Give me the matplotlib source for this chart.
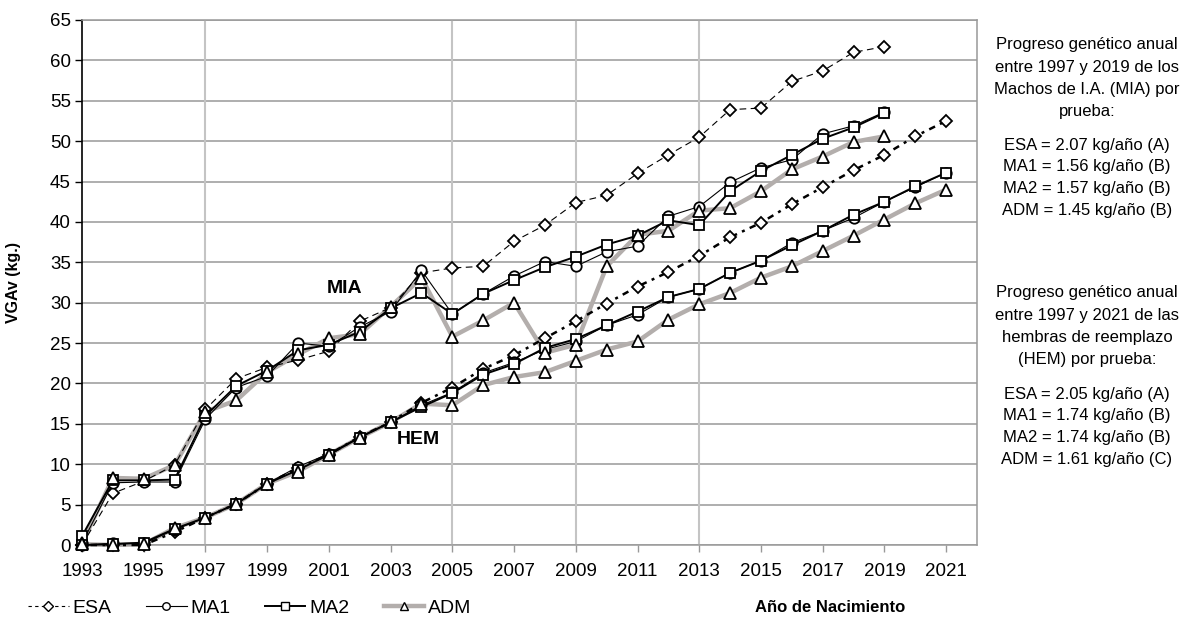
import matplotlib
matplotlib.use("Agg")
import matplotlib.pyplot as plt
from matplotlib.lines import Line2D

plt.rcParams['font.family'] = ['Liberation Sans', 'DejaVu Sans']

# Birth years
years_mia = list(range(1993, 2020))
years_hem = list(range(1993, 2022))

# Machos de I.A. (MIA)
esa_mia = [0.0, 6.4, 7.9, 9.9, 16.8, 20.6, 22.0, 22.9, 24.0, 27.7, 29.4, 33.7, 34.3, 34.5,
           37.6, 39.6, 42.4, 43.3, 46.0, 48.3, 50.5, 53.9, 54.1, 57.4, 58.7, 61.0, 61.7]
ma1_mia = [0.2, 7.7, 7.8, 7.8, 15.6, 19.5, 20.9, 25.0, 24.6, 27.0, 28.9, 34.0, 28.6, 31.1,
           33.3, 35.1, 34.5, 36.3, 37.0, 40.7, 41.9, 44.9, 46.7, 47.7, 50.9, 51.9, 53.6]
ma2_mia = [1.1, 8.0, 8.0, 8.1, 16.0, 19.7, 21.6, 24.1, 24.8, 26.4, 29.3, 31.2, 28.6, 31.1,
           32.8, 34.4, 35.7, 37.2, 38.3, 40.2, 39.6, 43.8, 46.3, 48.3, 50.3, 51.7, 53.5]
adm_mia = [0.2, 8.3, 8.2, 9.9, 16.5, 17.9, 21.4, 23.6, 25.6, 26.1, 29.5, 33.1, 25.8, 27.8,
           30.0, 23.8, 24.8, 34.5, 38.4, 38.9, 41.4, 41.7, 43.8, 46.5, 48.1, 49.9, 50.6]

# Hembras de reemplazo (HEM)
esa_hem = [0.0, 0.0, 0.0, 1.6, 3.4, 5.1, 7.6, 9.5, 11.2, 13.4, 15.2, 17.6, 19.5, 21.8, 23.5,
           25.6, 27.7, 29.9, 32.0, 33.8, 35.8, 38.1, 39.9, 42.2, 44.3, 46.4, 48.3, 50.6, 52.5]
ma1_hem = [0.0, 0.2, 0.2, 1.9, 3.4, 5.1, 7.6, 9.7, 11.3, 13.4, 15.2, 17.3, 18.9, 21.3, 22.6,
           24.2, 25.2, 27.2, 28.5, 30.7, 31.7, 33.7, 35.2, 37.4, 38.9, 40.5, 42.5, 44.3, 46.1]
ma2_hem = [0.0, 0.1, 0.3, 2.0, 3.4, 5.1, 7.6, 9.3, 11.2, 13.3, 15.2, 17.1, 18.8, 21.1, 22.4,
           24.4, 25.5, 27.2, 28.9, 30.7, 31.7, 33.7, 35.2, 37.1, 38.9, 40.9, 42.5, 44.4, 46.1]
adm_hem = [0.1, 0.0, 0.1, 2.1, 3.4, 5.1, 7.6, 9.1, 11.2, 13.3, 15.2, 17.5, 17.3, 19.8, 20.8,
           21.4, 22.8, 24.2, 25.2, 27.9, 29.8, 31.2, 33.1, 34.5, 36.4, 38.3, 40.3, 42.3, 44.0]

series_names = ["ESA", "MA1", "MA2", "ADM"]
x_ticks = list(range(1993, 2022, 2))
y_ticks = list(range(0, 66, 5))
v_grid_years = [1997, 2005, 2009, 2013]

text_mia = ["Progreso genético anual", "entre 1997 y 2019 de los",
            "Machos de I.A. (MIA) por", "prueba:"]
vals_mia = ["ESA = 2.07 kg/año (A)", "MA1 = 1.56 kg/año (B)",
            "MA2 = 1.57 kg/año (B)", "ADM = 1.45 kg/año (B)"]
text_hem = ["Progreso genético anual", "entre 1997 y 2021 de las",
            "hembras de reemplazo", "(HEM) por prueba:"]
vals_hem = ["ESA = 2.05 kg/año (A)", "MA1 = 1.74 kg/año (B)",
            "MA2 = 1.74 kg/año (B)", "ADM = 1.61 kg/año (C)"]

GREY = "#b3aeac"
styles = {
    "ESA": dict(color="black", lw=0.8, ls=(0, (6, 4)), marker="D", ms=6.5),
    "MA1": dict(color="black", lw=0.8, ls="-", marker="o", ms=7.5),
    "MA2": dict(color="black", lw=1.4, ls="-", marker="s", ms=7.5),
    "ADM": dict(color=GREY, lw=3.2, ls="-", marker="^", ms=8.5),
}

fig = plt.figure(figsize=(11.87, 6.24), dpi=100)
ax = fig.add_axes([82 / 1187, 1 - 545 / 624, (977 - 82) / 1187, (545 - 20) / 624])

ax.set_xlim(1993, 2022)
ax.set_ylim(0, 65)

for y in y_ticks:
    ax.axhline(y, color="#999999", lw=1.1, zorder=0.5)
for x in v_grid_years:
    ax.axvline(x, color="#c4c4c4", lw=1.5, zorder=0.5)

groups = [
    (years_mia, [esa_mia, ma1_mia, ma2_mia, adm_mia], False),
    (years_hem, [esa_hem, ma1_hem, ma2_hem, adm_hem], True),
]
line_z = {"ADM": 2, "ESA": 3, "MA1": 3.2, "MA2": 3.4}
mark_z = {"ESA": 5, "MA1": 5.2, "MA2": 5.4, "ADM": 5.6}
for years, vals, is_hem in groups:
    for name, v in zip(series_names, vals):
        st = styles[name]
        ls = st["ls"]
        lw = st["lw"]
        if is_hem and name == "ESA":
            # dash-dot pattern for the replacement-heifer ESA trend
            ls = (0, (1.2, 2.2, 2.6, 2.2))
            lw = 1.8
        ax.plot(years, v, color=st["color"], lw=lw, ls=ls, zorder=line_z[name],
                clip_on=False)
        ax.plot(years, v, ls="none", marker=st["marker"], ms=st["ms"],
                mfc="white", mec="black", mew=1.3, zorder=mark_z[name], clip_on=False)

for s in ["top", "right", "bottom"]:
    ax.spines[s].set_color("#999999")
    ax.spines[s].set_linewidth(1.1)
ax.spines["left"].set_color("black")
ax.spines["left"].set_linewidth(1.2)

ax.set_xticks(x_ticks)
ax.set_xticklabels([str(x) for x in x_ticks], fontsize=13.5)
ax.set_yticks(y_ticks)
ax.set_yticklabels([str(y) for y in y_ticks], fontsize=13.5)
ax.tick_params(axis="x", length=5, width=1, color="#999999", pad=8)
ax.tick_params(axis="y", length=5, width=1, color="black", pad=3)

ax.text(2001.5, 31.8, "MIA", fontsize=14, fontweight="bold", ha="center", va="center")
ax.text(2003.9, 13.0, "HEM", fontsize=14, fontweight="bold", ha="center", va="center")

fig.text(14 / 1187, 1 - 283 / 624, "VGAv (kg.)", rotation=90, fontsize=11.5,
         fontweight="bold", ha="center", va="center")
fig.text(830 / 1187, 1 - 607 / 624, "Año de Nacimiento", fontsize=12,
         fontweight="bold", ha="center", va="center")

# Legend
handles = []
for name in series_names:
    st = styles[name]
    handles.append(Line2D([], [], color=st["color"], lw=st["lw"],
                          ls=(0, (3, 3)) if name == "ESA" else st["ls"],
                          marker=st["marker"], ms=st["ms"] * 0.72,
                          mfc="white", mec="black", mew=1.0))
fig.legend(handles, series_names, loc="center left", bbox_to_anchor=(28 / 1187, 1 - 608 / 624),
           ncol=4, frameon=False, fontsize=14, handlelength=2.1, columnspacing=1.75,
           handletextpad=0.2, borderaxespad=0, borderpad=0)

# Side annotations
cx = 1087 / 1187
def block(lines, first_y, step=22.3, size=12):
    for i, t in enumerate(lines):
        fig.text(cx, 1 - (first_y + i * step) / 624, t, fontsize=size,
                 ha="center", va="center")

block(text_mia, 45)
block(vals_mia, 145, step=21.7)
block(text_hem, 293)
block(vals_hem, 394, step=21.7)

fig.savefig("out.png", dpi=100)
